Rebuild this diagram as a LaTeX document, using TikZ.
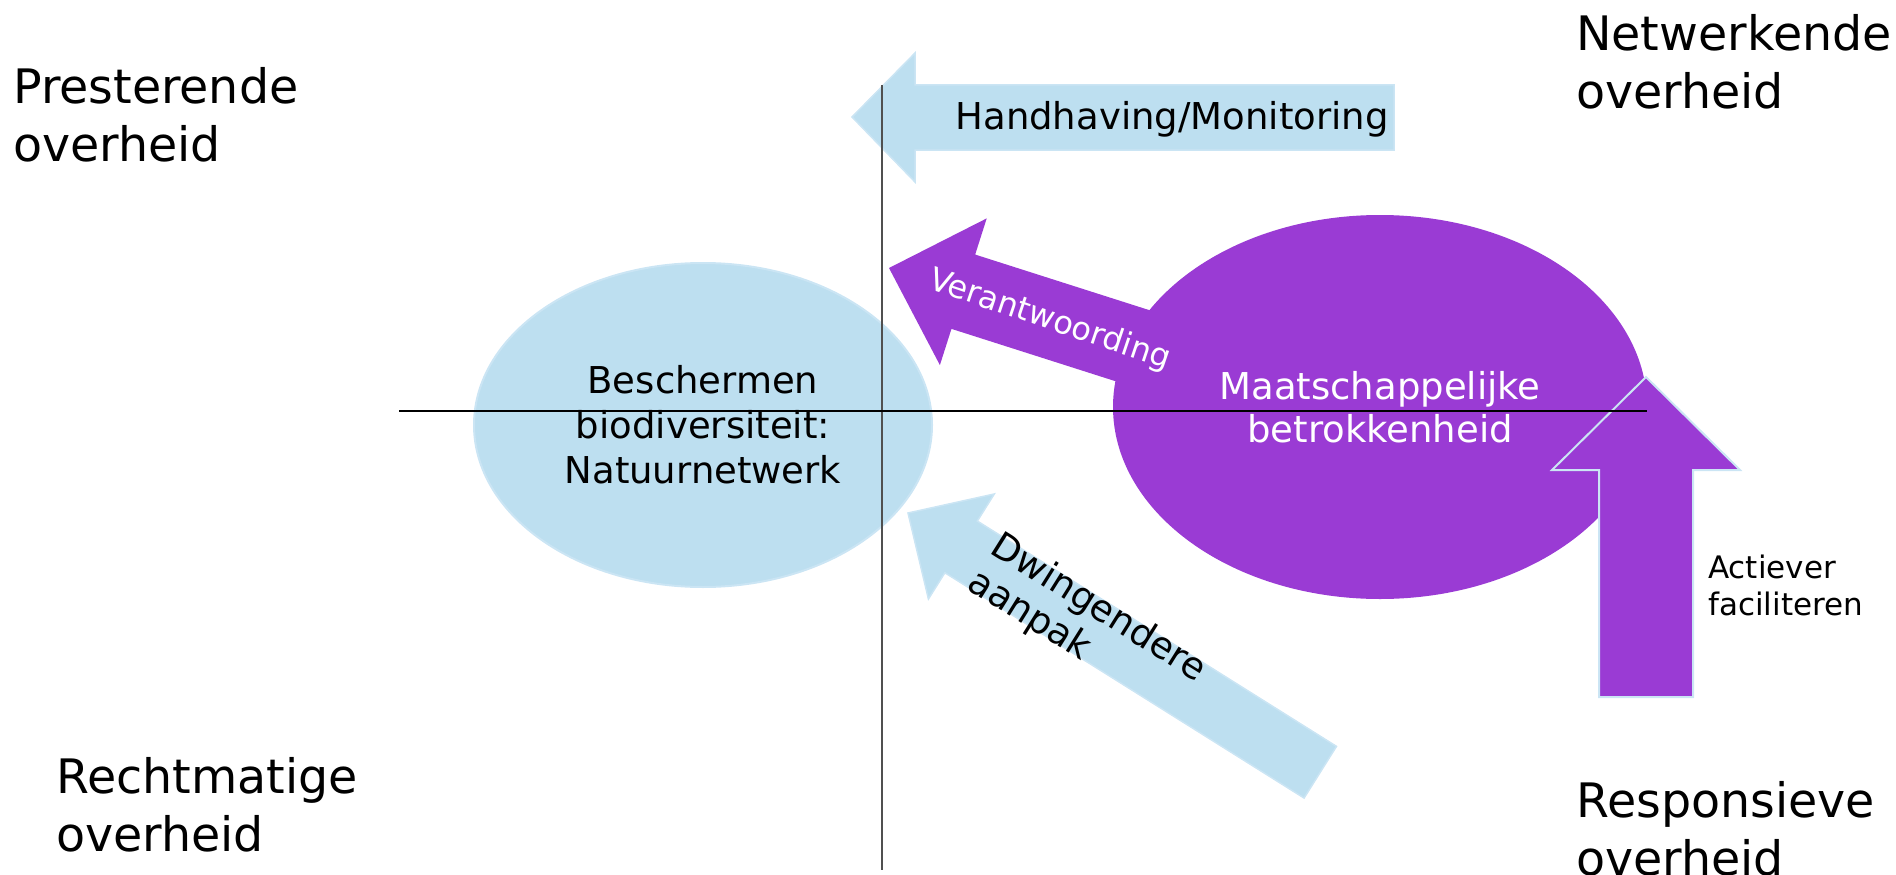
\documentclass[tikz,border=0pt]{standalone}
\usepackage{fontspec}
\setmainfont{DejaVu Sans}
\usetikzlibrary{shapes.geometric}

\begin{document}
\begin{tikzpicture}[x=1pt,y=-1pt,line join=miter,
  hoek/.style={anchor=north west,inner sep=0pt,align=left,font=\fontsize{47.5}{58}\selectfont},
  vlak/.style={ellipse,inner sep=0pt,align=center}]
\definecolor{lichtblauw}{HTML}{BDDFF0}
\definecolor{randblauw}{HTML}{CBE5F4}
\definecolor{paars}{HTML}{9A3BD4}
\definecolor{asgrijs}{HTML}{505050}
\useasboundingbox (0,0) rectangle (1896,875);

% Handhaving arrow, pointing left
\path[fill=lichtblauw, draw=randblauw, line width=1.5pt]
  (852,117) -- (915,53) -- (915,85) -- (1394,85)
  -- (1394,150) -- (915,150) -- (915,182) -- cycle;

% Verantwoording arrow, tip at the left
\begin{scope}[shift={(889,268)}, rotate=-17.7]
  \path[fill=paars]
    (0,0) -- (78,-77) -- (78,-39) -- (380,-39)
    -- (380,39) -- (78,39) -- (78,77) -- cycle;
  \coordinate (verantw-mid) at (169,1);
\end{scope}

% Dwingendere aanpak arrow
\begin{scope}[shift={(908,513)}, rotate=-32.1]
  \path[fill=lichtblauw, draw=randblauw, line width=1.5pt]
    (0,0) -- (63,-62) -- (63,-30) -- (487,-30)
    -- (487,31) -- (63,31) -- (63,62) -- cycle;
  \coordinate (dwing-hoek) at (89,-38);
\end{scope}

% the two fields
\node[vlak, fill=lichtblauw, draw=randblauw, line width=2pt,
      minimum width=458pt, minimum height=324pt,
      font=\fontsize{37}{45}\selectfont] (bescherm) at (703,425)
  {Beschermen\\biodiversiteit:\\Natuurnetwerk};
\node[vlak, fill=paars, text=white,
      minimum width=534pt, minimum height=384pt,
      font=\fontsize{37}{43}\selectfont] (betrokken) at (1380,407)
  {Maatschappelijke\\betrokkenheid};

% arrow labels
\node[anchor=base, inner sep=0pt, font=\fontsize{37}{44}\selectfont]
  (handhaving) at (1172,129) {Handhaving/Monitoring};
\node[rotate=-18.6, inner sep=0pt, text=white, font=\fontsize{32}{38}\selectfont]
  (verantw) at (verantw-mid) {Verantwoording};
\node[rotate=-32.1, anchor=north west, inner sep=0pt, align=left,
      font=\fontsize{37}{43}\selectfont]
  (dwingend) at (dwing-hoek) {Dwingendere\\aanpak};

% Actiever faciliteren arrow, pointing up
\path[fill=paars, draw=randblauw, line width=2pt]
  (1646,377) -- (1740,470) -- (1693,470) -- (1693,697)
  -- (1599,697) -- (1599,470) -- (1552,470) -- cycle;
\node[anchor=north west, inner sep=0pt, align=left, font=\fontsize{31}{37}\selectfont]
  (faciliteer) at (1708,555) {Actiever\\faciliteren};

% axes
\coordinate (as-boven) at (882,85);
\coordinate (as-onder) at (882,870);
\coordinate (as-links) at (399,411);
\coordinate (as-rechts) at (1647,411);
\draw[line width=2pt, asgrijs] (as-boven) -- (as-onder);
\draw[line width=1.5pt] (as-links) -- (as-rechts);

% quadrant labels
\node[hoek] (presterend) at (13,67) {Presterende\\overheid};
\node[hoek] (netwerkend) at (1576,14) {Netwerkende\\overheid};
\node[hoek] (rechtmatig) at (56,757) {Rechtmatige\\overheid};
\node[hoek] (responsief) at (1576,781) {Responsieve\\overheid};
\end{tikzpicture}
\end{document}
